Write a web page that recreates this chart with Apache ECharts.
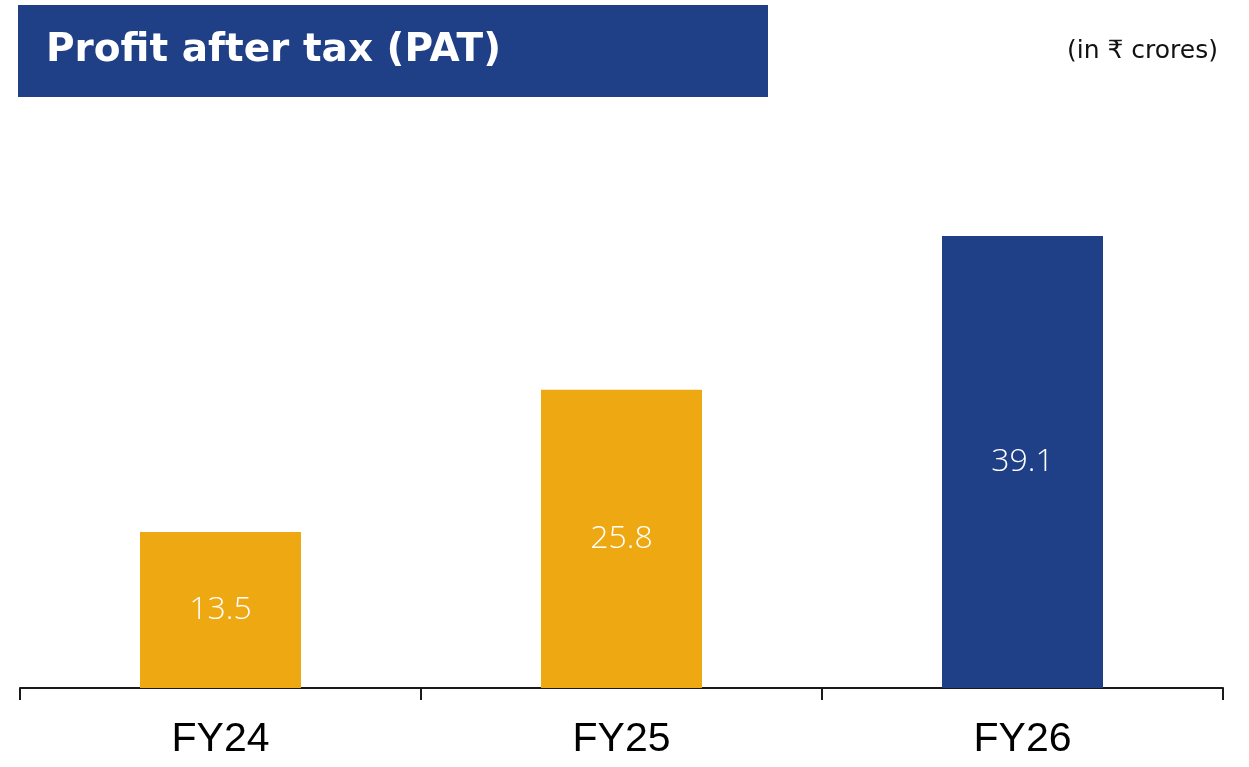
<!DOCTYPE html>
<html>
<head>
<meta charset="utf-8">
<script src="https://cdn.jsdelivr.net/npm/echarts@6/dist/echarts.min.js"></script>
<style>
  html, body { margin: 0; padding: 0; background: #fff; }
  #patChart { width: 1249px; height: 767px; }
</style>
</head>
<body>
<div id="patChart"></div>
<script>
const categories = ["FY24", "FY25", "FY26"];
const patValues = [13.5, 25.8, 39.1];
const barColors = ["#EEA811", "#EEA811", "#1F4086"];

const chart = echarts.init(document.getElementById("patChart"));

const option = {
  animation: false,
  graphic: [
    {
      type: "rect",
      shape: { x: 18, y: 5, width: 750, height: 92 },
      style: { fill: "#1F4086" },
    },
    {
      type: "text",
      left: 46,
      top: 31,
      style: {
        text: "Profit after tax (PAT)",
        fill: "#fff",
        font: "bold 39px 'DejaVu Sans'",
      },
    },
    {
      type: "text",
      right: 31,
      top: 39,
      style: {
        text: "(in ₹ crores)",
        fill: "#111",
        font: "25px 'DejaVu Sans'",
      },
    },
  ],
  grid: {
    left: 20,
    right: 26,
    top: 110,
    bottom: 79,
  },
  xAxis: {
    type: "category",
    data: categories,
    axisLine: { show: true, lineStyle: { color: "#1a1a1a", width: 2 } },
    axisTick: { show: true, length: 12, lineStyle: { color: "#1a1a1a", width: 2 } },
    axisLabel: {
      margin: 31,
      color: "#000",
      fontFamily: "Liberation Sans",
      fontSize: 41,
    },
  },
  yAxis: {
    type: "value",
    min: 0,
    max: 50,
    show: false,
    splitLine: { show: false },
  },
  series: [
    {
      type: "bar",
      barWidth: 161,
      data: patValues.map((v, i) => ({
        value: v,
        itemStyle: { color: barColors[i] },
      })),
      label: {
        show: true,
        position: "inside",
        color: "#fff",
        fontFamily: "Open Sans",
        fontWeight: 300,
        fontSize: 32,
      },
    },
  ],
};

chart.setOption(option);
</script>
</body>
</html>
